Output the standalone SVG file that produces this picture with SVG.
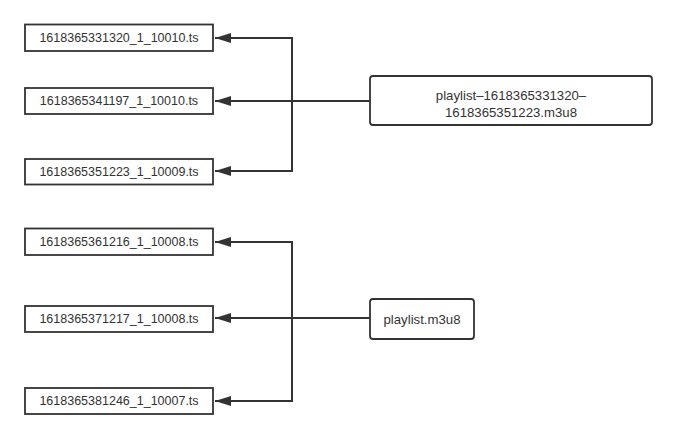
<svg xmlns="http://www.w3.org/2000/svg" width="677" height="439" viewBox="0 0 677 439">
<style>
.box{fill:#fff;stroke:#333;stroke-width:1.8}
.rbox{fill:#fff;stroke:#333;stroke-width:1.8}
.t{font-family:"Liberation Sans",Arial,sans-serif;font-size:12.5px;fill:#333;text-anchor:middle;dominant-baseline:central}
.p{font-size:13.2px}
.c{fill:none;stroke:#333;stroke-width:2}
</style>
<defs>
<marker id="ah" markerUnits="userSpaceOnUse" markerWidth="16" markerHeight="10" refX="16" refY="5" orient="auto">
<path d="M0,0 L16,5 L0,10 Z" fill="#333"/>
</marker>
</defs>
<rect width="677" height="439" fill="#fff"/>
<g id="connectors">
<path class="c" d="M292,101 L292,38 L215,38" marker-end="url(#ah)"/>
<path class="c" d="M370,101 L215,101" marker-end="url(#ah)"/>
<path class="c" d="M292,101 L292,171 L215,171" marker-end="url(#ah)"/>
<path class="c" d="M292,318 L292,242 L215,242" marker-end="url(#ah)"/>
<path class="c" d="M370,318 L215,318" marker-end="url(#ah)"/>
<path class="c" d="M292,318 L292,401 L215,401" marker-end="url(#ah)"/>
</g>
<g id="n1"><rect class="box" x="25" y="24.5" width="188" height="26.5"/><text class="t" x="119" y="38">1618365331320_1_10010.ts</text></g>
<g id="n2"><rect class="box" x="25" y="88" width="188" height="26"/><text class="t" x="119" y="101">1618365341197_1_10010.ts</text></g>
<g id="n3"><rect class="box" x="25" y="159" width="188" height="25.5"/><text class="t" x="119" y="172">1618365351223_1_10009.ts</text></g>
<g id="p1"><rect class="rbox" x="370" y="76" width="282" height="49" rx="3"/><text class="t p" x="511" y="95">playlist–1618365331320–</text><text class="t p" x="511" y="112">1618365351223.m3u8</text></g>
<g id="n4"><rect class="box" x="25" y="228.5" width="188" height="26.5"/><text class="t" x="119" y="242">1618365361216_1_10008.ts</text></g>
<g id="n5"><rect class="box" x="25" y="306" width="188" height="26"/><text class="t" x="119" y="319">1618365371217_1_10008.ts</text></g>
<g id="n6"><rect class="box" x="25" y="388" width="188" height="26"/><text class="t" x="119" y="401">1618365381246_1_10007.ts</text></g>
<g id="p2"><rect class="rbox" x="370" y="299" width="104" height="40" rx="3"/><text class="t p" x="422" y="319">playlist.m3u8</text></g>
</svg>
